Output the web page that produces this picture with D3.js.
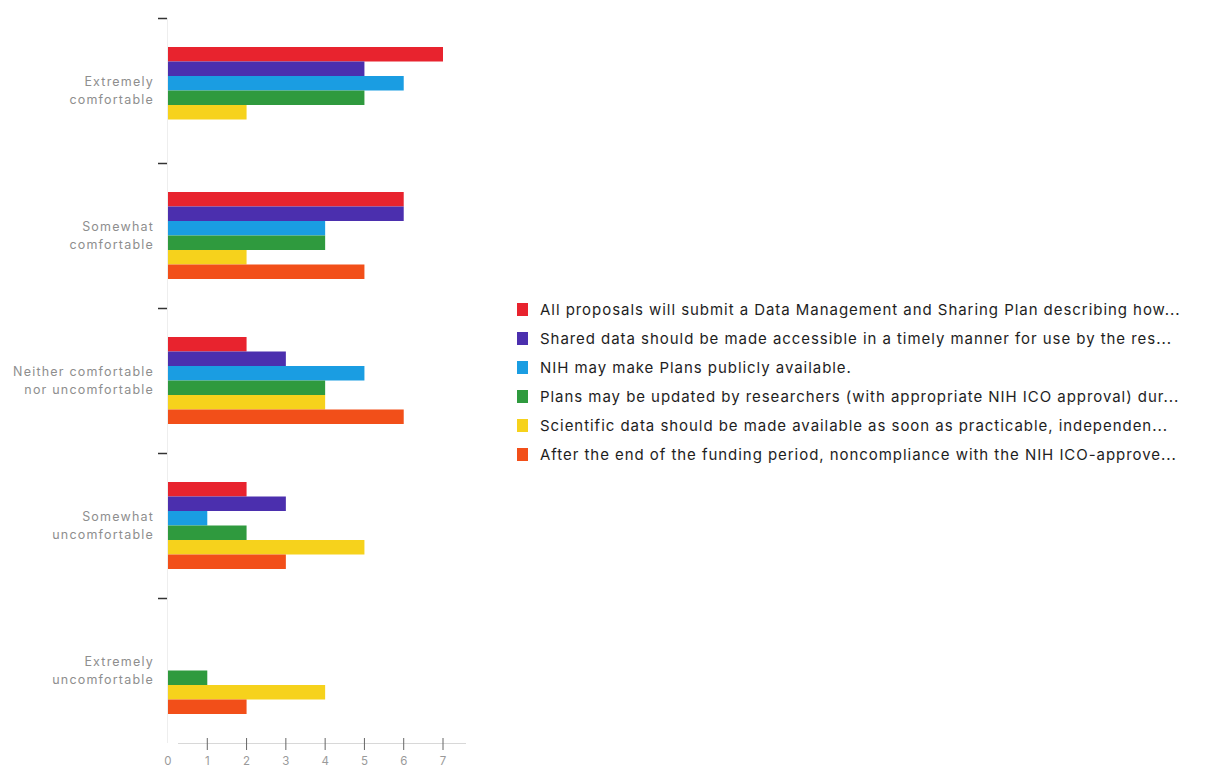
<!DOCTYPE html>
<html>
<head>
<meta charset="utf-8">
<script src="https://cdn.jsdelivr.net/npm/d3@7"></script>
<style>
  html, body { margin: 0; padding: 0; background: #fff; }
  svg { display: block; }
</style>
</head>
<body>
<svg id="chart" width="1222" height="769"></svg>
<script>
// Comfort levels (one band each on the y axis)
const categories = [
  ["Extremely", "comfortable"],
  ["Somewhat", "comfortable"],
  ["Neither comfortable", "nor uncomfortable"],
  ["Somewhat", "uncomfortable"],
  ["Extremely", "uncomfortable"]
];

// Policy statements (series), shown in the legend
const seriesNames = [
  "All proposals will submit a Data Management and Sharing Plan describing how...",
  "Shared data should be made accessible in a timely manner for use by the res...",
  "NIH may make Plans publicly available.",
  "Plans may be updated by researchers (with appropriate NIH ICO approval) dur...",
  "Scientific data should be made available as soon as practicable, independen...",
  "After the end of the funding period, noncompliance with the NIH ICO-approve..."
];

const seriesColors = ["#e8232e", "#4b2fae", "#1a9de2", "#2f9a3e", "#f6d21c", "#f24f19"];

// Response counts per series, in category order
const allProposals   = [7, 6, 2, 2, 0];
const sharedData     = [5, 6, 3, 3, 0];
const plansPublic    = [6, 4, 5, 1, 0];
const plansUpdated   = [5, 4, 4, 2, 1];
const scientificData = [2, 2, 4, 5, 4];
const afterFunding   = [0, 5, 6, 3, 2];

const seriesValues = [allProposals, sharedData, plansPublic, plansUpdated, scientificData, afterFunding];

const xTicks = [0, 1, 2, 3, 4, 5, 6, 7];

const svg = d3.select("#chart");
const catKeys = categories.map((c, i) => i);

const x = d3.scaleLinear().domain([0, 7]).range([168, 443]);
const y = d3.scaleBand().domain(catKeys).range([18, 743]).paddingInner(0).paddingOuter(0);
const ySub = d3.scaleBand().domain(d3.range(seriesNames.length))
  .range([0, y.bandwidth()]).paddingInner(0).paddingOuter(2);

// faint y axis line
svg.append("line")
  .attr("x1", 167.5).attr("x2", 167.5)
  .attr("y1", 18).attr("y2", 743)
  .attr("stroke", "#eeeeee").attr("stroke-width", 1);

// band separator ticks
svg.append("g").selectAll("line")
  .data(catKeys)
  .join("line")
  .attr("x1", 158).attr("x2", 167)
  .attr("y1", d => y(d) + 0.5).attr("y2", d => y(d) + 0.5)
  .attr("stroke", "#333").attr("stroke-width", 1.5);

// category labels
const catLabels = svg.append("g")
  .attr("font-family", "Inter, 'DejaVu Sans', sans-serif")
  .attr("font-size", 12.5)
  .attr("letter-spacing", 1.2)
  .attr("fill", "#8e8e8e")
  .attr("text-anchor", "end");
catKeys.forEach(i => {
  const cy = y(i) + y.bandwidth() / 2;
  const t = catLabels.append("text").attr("x", 154).attr("y", cy);
  categories[i].forEach((line, j) => {
    t.append("tspan")
      .attr("x", 154)
      .attr("y", cy + (j - (categories[i].length - 1) / 2) * 18 + 4.5)
      .text(line);
  });
});

// bars
const rows = [];
catKeys.forEach(ci => {
  seriesValues.forEach((vals, si) => {
    rows.push({ ci, si, v: vals[ci] });
  });
});
svg.append("g").selectAll("rect")
  .data(rows.filter(d => d.v > 0))
  .join("rect")
  .attr("x", x(0))
  .attr("y", d => y(d.ci) + ySub(d.si))
  .attr("width", d => x(d.v) - x(0))
  .attr("height", ySub.bandwidth())
  .attr("fill", d => seriesColors[d.si]);

// x axis
const axisG = svg.append("g").attr("transform", "translate(0,743)");
axisG.append("line")
  .attr("x1", 178).attr("x2", 466)
  .attr("y1", 0.5).attr("y2", 0.5)
  .attr("stroke", "#d8d8d8").attr("stroke-width", 1);
axisG.selectAll("line.tick")
  .data(xTicks.filter(d => d > 0))
  .join("line")
  .attr("class", "tick")
  .attr("x1", d => x(d)).attr("x2", d => x(d))
  .attr("y1", -5).attr("y2", 7)
  .attr("stroke", "#666").attr("stroke-width", 1);
axisG.selectAll("text")
  .data(xTicks)
  .join("text")
  .attr("x", d => x(d))
  .attr("y", 22)
  .attr("text-anchor", "middle")
  .attr("font-family", "Inter, 'DejaVu Sans', sans-serif")
  .attr("font-size", 11.5)
  .attr("fill", "#9a9a9a")
  .text(d => d);

// legend
const legend = svg.append("g").attr("transform", "translate(517,303)");
const item = legend.selectAll("g")
  .data(seriesNames)
  .join("g")
  .attr("transform", (d, i) => `translate(0,${i * 29})`);
item.append("rect")
  .attr("width", 11).attr("height", 13)
  .attr("fill", (d, i) => seriesColors[i]);
item.append("text")
  .attr("x", 23)
  .attr("y", 11.5)
  .attr("font-family", "Inter, 'DejaVu Sans', sans-serif")
  .attr("font-size", 15)
  .attr("letter-spacing", 0.95)
  .attr("fill", "#1e1e1e")
  .text(d => d);
</script>
</body>
</html>
